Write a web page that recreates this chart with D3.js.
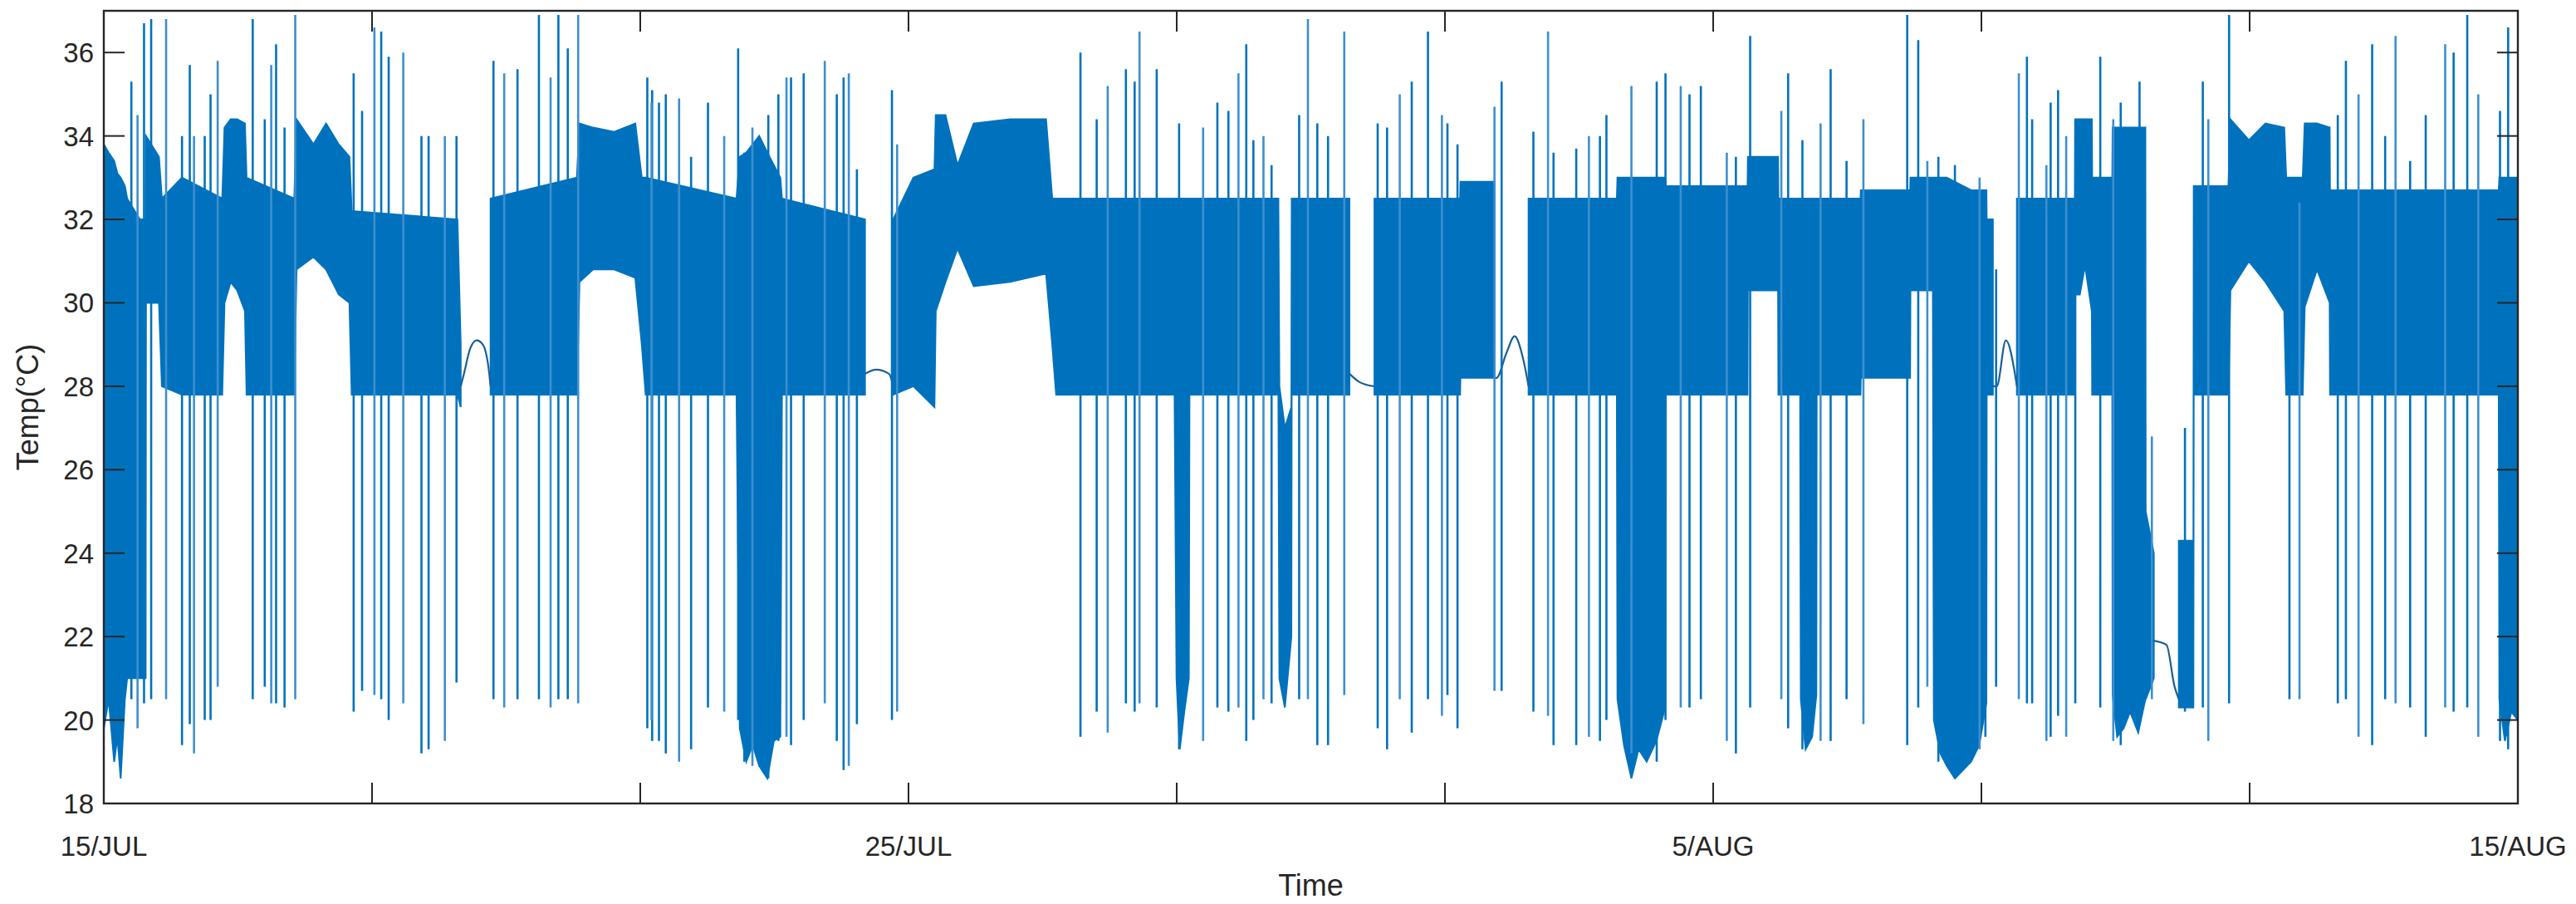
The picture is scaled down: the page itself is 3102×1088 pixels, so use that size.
<!DOCTYPE html>
<html><head><meta charset="utf-8">
<script src="https://cdn.jsdelivr.net/npm/d3@7/dist/d3.min.js"></script>
<style>body{margin:0;background:#fff}svg text{font-family:"Liberation Sans",Arial,sans-serif;fill:#262626}</style>
</head><body><svg id="c" width="3102" height="1088"></svg>
<script>
// time in hours from 15/JUL (0..744), ticks evenly every 744/9 h
const tickLabels = ["15/JUL","","","25/JUL","","","5/AUG","","","15/AUG"];
const yTicks = [18,20,22,24,26,28,30,32,34,36];

// dense band envelope points [time, low, high]; null marks a gap
const bandPts = [
 [0,19.8,33.8],[1.5,20.5,33.6],[3.2,19.0,33.4],[4.2,19.6,33.1],[5.2,18.6,33],[6.5,20.5,32.8],[7.2,21,32.5],[11.1,21,32],[12.9,21,32],[13,30,34],[17,30,33.5],[17.9,28,32.5],
 [24.1,27.8,33],[36.5,27.8,32.5],[37.2,30,34.2],[39.1,30.5,34.4],[41.1,30.3,34.4],[43.5,29.8,34.3],[44,27.8,33],[58.7,27.8,32.5],
 [59.4,30.8,34.4],[64.6,31.1,33.8],[68.5,30.8,34.3],[72.4,30.2,33.8],[75.7,30,33.5],[76.4,27.8,32.2],[109,27.8,32],[110,27.5,29],null,
 [119.2,27.8,32.5],[145.8,27.8,33],[146.6,30.5,34.3],[150.8,30.8,34.2],[157.3,30.8,34.1],[163.8,30.6,34.3],[165.8,29,33],[167,27.8,33],
 [195,27.8,32.5],[196,19.8,33.5],[198,19.0,33.6],[200,19.4,33.8],[202,18.9,34],[204.5,18.6,33.6],[206.5,19.5,33.3],[208.5,19.6,33],[209,27.8,32.5],[234.6,27.8,32],null,
 [243.3,27.8,32],[249.5,28,33],[256,27.5,33.2],[256.4,29.8,34.5],[259.4,30.5,34.5],[263.1,31.3,33.3],[268.1,30.4,34.3],[279.3,30.5,34.4],[290.4,30.7,34.4],[292.3,29,32.5],[293.5,27.8,32.5],
 [330,27.8,32.5],[330.6,21,32.5],[331.6,19.3,32.5],[333,20.2,32.5],[334.4,21,32.5],[334.6,27.8,32.5],[362,27.8,32.5],[362.3,21,28],[364,20.3,27],[366,22,27.5],[366.1,27.8,32.5],[383.9,27.8,32.5],null,
 [391.6,27.8,32.5],[418,27.8,32.5],[418.1,28.2,32.9],[428.6,28.2,32.9],null,
 [439.1,27.8,32.5],[466.3,27.8,32.5],[466.5,20.5,33],[468.5,19.4,33],[470.8,18.6,33],[473,19.3,33],[475.5,19.0,33],[478.5,19.5,33],[481.2,20.3,33],[481.4,27.8,32.8],
 [506.6,27.8,32.8],[506.7,30.3,33.5],[516,30.3,33.5],[516.1,27.8,32.5],[522.8,27.8,32.5],[523,20.5,32.5],[524.5,19.3,32.5],[526.5,19.6,32.5],[527.8,20.6,32.5],[527.9,27.8,32.5],
 [541.4,27.8,32.5],[541.5,28.2,32.7],[556.7,28.2,32.7],[556.8,30.3,33],[563.7,30.3,33],
 [564,20,33],[566,19.2,33],[568,18.9,33],[570.5,18.6,32.9],[573,18.8,32.8],[575.5,19.0,32.7],[578,19.4,32.7],[580.2,20.4,32.7],[580.3,27.8,32],[582.2,27.8,32],null,
 [589.6,27.8,32.5],[607.5,27.8,32.5],[607.6,30.2,34.4],[609,30.2,34.4],[610.6,30.9,34.4],[612.7,29.8,34.4],[612.8,27.8,33],[619,27.8,33],
 [619.1,20.6,34.2],[620.5,19.6,34.2],[622.5,19.8,34.2],[624.5,20.2,34.2],[627,19.7,34.2],[629.2,20.5,34.2],[629.3,20.5,25],[631.8,21,24],null,
 [639.5,20.3,24.3],[644,20.3,24.3],[644.1,27.8,32.8],[654.8,27.8,32.8],[655.4,30.3,34.4],[661.1,31,33.9],[666.2,30.5,34.3],[672,29.8,34.2],[672.6,27.8,33],[677.7,27.8,33],
 [678.3,29.9,34.3],[682.1,30.8,34.3],[686,30,34.2],[686.1,27.8,32.7],[738.1,27.8,32.7],[738.3,20.5,33],[740,19.5,33],[742,20.2,33],[744,20,33]
];

// thin single-line stretches
const lineT = [110,111,112.9,114.9,116.8,118.8,119.2, 234.6,238,242,243.3, 383.9,387,391.4, 428.6,429.2,432.3,434.8,437.3,439.1,
  582.2,583.4,586.2,589.2,589.6, 631.8,635.7,638.2,639.5];
const lineV = [28,28.3,28.9,29.1,29.0,28.3,28, 28.3,28.4,28.3,28, 28.3,28.1,28.0, 28.2,28.2,28.8,29.2,28.7,28.0,
  28,28.0,29.1,28.2,28, 21.9,21.8,20.8,20.5];

// spikes: time, low, high
const spikeT = [8.5,10.4,12.4,14.6,19.2,24.1,26.5,27.8,31.1,32.9,35.1,45.9,49.6,51.6,53.1,55.7,59,77,79.6,83.4,85.5,87.8,92.3,97.9,100.1,105.1,108.7,120.1,123.4,127.5,134.1,137.7,140.1,143,146.2,167.5,169,
 168.8,171.1,173.2,177.3,181,186.2,191.2,195.5,197.4,199.9,204.8,207.9,210.4,211.8,215.7,222.2,225.9,228,229.6,232.1,242.9,244.5,301,306,309.4,315,317.7,319.2,324.5,331.4,338.8,343.2,346.6,349.7,352.1,354.3,357.4,359.9,
 368.4,371.1,374,377.3,382.3,392.6,395.5,399.4,403.1,408.1,412.4,414.1,417.2,428.6,430.8,440.6,445.1,446.8,453.8,457.7,461.1,463.1,470.8,478.6,481.3,486,488.7,492.2,500.2,503,507.4,517,519.1,523.5,529.1,532.2,537.1,542.3,555.8,
 559.2,562,565.4,570.5,578.1,579.9,583.2,590.2,592.7,594.3,598.7,600,602.3,604.8,607.6,615.3,619.3,621.6,627.4,631.2,641.4,646.9,648.6,655,673.6,676.7,688.5,691,694.9,699.1,703.1,706.3,710.8,715.6,721.6,724.2,728.4,731.8,738.5,741];
const spikeLo = [20.5,19.8,20.4,20.5,20.5,19.4,19.9,19.2,20,20,20.8,20.5,20.8,20.4,20.4,20.3,20.5,20.2,20.7,20.6,20.5,20,20.4,19.2,19.3,19.5,20.9,20.5,20.3,20.5,20.5,20.3,20.5,20.5,20.4,19.8,19.5,
 20,19.5,19.2,19,19.3,20.3,20.2,20,19,18.9,18.6,19.5,19.6,19.4,20,20.4,19.5,18.8,18.9,19.9,20,20.2,19.6,20.2,19.7,20.4,20.2,20.4,20.3,19.3,19.5,20.3,20.2,20.3,19.5,20,20.5,20.4,
 20.5,20.5,19.4,19.4,20.6,19.8,19.3,20.5,19.7,20.5,20.1,20.6,19.8,20.7,20.7,20.2,20.1,19.4,19.4,19.6,19.5,20,19.2,19,20,20.3,20.3,20.5,19.5,19.2,20.3,20.5,19.8,19.3,19.5,19.5,20.5,19.9,19.4,
 20.3,20.8,19,18.8,19.3,19.6,20.8,20.5,20.4,20.4,19.5,19.6,20.1,19.6,20.4,20.3,19.5,19.4,20.5,20.5,20.2,20.3,19.5,20.4,20.5,20.5,20.4,20.5,19.6,19.4,20.5,20.4,20.3,19.6,20.3,20.2,20.3,19.6,19.5,19.3];
const spikeHi = [35.3,34.5,36.7,36.8,36.8,34,35.7,34,34,35,35.8,36.8,34.4,35.7,36.2,34.2,36.9,35.5,34.6,36.6,36.5,35.9,36,34,34,34,34,35.8,35.5,35.6,36.9,35.4,36.9,36.1,36.9,35.4,35.1,
 34.8,34.8,35,34.9,33.5,34.8,34,36.1,33.6,34.2,34.5,35,35.4,35.4,35.5,35.8,35,35.4,35.5,33.2,35.1,33.8,36,34.4,35.2,35.6,35.3,36.5,35.6,34.3,34.2,34.8,34.6,35.5,36.2,33.9,34,33.3,
 34.5,36.8,34.3,34,36.5,34.3,34.2,35,35.3,36.5,34.5,34.3,33.8,34.7,35.3,34.1,36.5,33.6,33.7,34,34,34.5,35.2,35.3,35.5,35.2,35,35.2,33.6,33.5,36.4,34.6,35.5,33.9,34.3,35.6,33.4,34.4,36.9,
 36.3,33.4,33.5,33.3,33,32.5,30.8,35.5,35.9,34.4,33.3,34.8,35.1,34,34.4,35.9,34.4,34.8,35.3,26.8,27,35.3,34.4,36.9,33,32.4,34.5,35.8,35,36.2,34,36.4,33.4,34.5,36.2,36,36.9,35,34.6,36.6];

const L=125, R=3032, T=13, B=967;
const svg=d3.select("#c");
const x=d3.scaleLinear().domain([0,744]).range([L,R]);
const y=d3.scaleLinear().domain([18,37]).range([B,T]);
const col="#0072BD";
svg.append("defs").append("clipPath").attr("id","clip").append("rect").attr("x",L).attr("y",T).attr("width",R-L).attr("height",B-T);
const g=svg.append("g").attr("clip-path","url(#clip)");

const area=d3.area().defined(d=>d!==null).x(d=>x(d[0])).y0(d=>y(d[1])).y1(d=>y(d[2]));
g.append("path").datum(bandPts).attr("fill",col).attr("stroke",col).attr("stroke-width",2).attr("d",area);

const line=lineT.map((t,i)=>({t,v:lineV[i]}));
const runs=[];let cur=[];
line.forEach((p,i)=>{ if(i>0 && p.t-line[i-1].t>6){runs.push(cur);cur=[];} cur.push(p);}); runs.push(cur);
g.selectAll(".thin").data(runs).join("path").attr("fill","none").attr("stroke","#1a5f96").attr("stroke-width",2.2)
 .attr("d",d3.line().x(d=>x(d.t)).y(d=>y(d.v)).curve(d3.curveMonotoneX));

const spikes=spikeT.map((t,i)=>({t,lo:spikeLo[i],hi:spikeHi[i],i}));
g.selectAll(".sp").data(spikes).join("line")
 .attr("x1",d=>x(d.t)).attr("x2",d=>x(d.t)).attr("y1",d=>y(d.lo)).attr("y2",d=>y(d.hi))
 .attr("stroke",d=>d.i%3===1?"#3d8fd0":col).attr("stroke-width",2.6);

const ax=svg.append("g").attr("stroke","#262626").attr("fill","none");
ax.append("rect").attr("x",L).attr("y",T).attr("width",R-L).attr("height",B-T).attr("stroke-width",2.4);
const tl=25;
tickLabels.forEach((lab,i)=>{
  const xx=x(i*744/9);
  ax.append("line").attr("x1",xx).attr("x2",xx).attr("y1",B).attr("y2",B-tl).attr("stroke-width",2);
  ax.append("line").attr("x1",xx).attr("x2",xx).attr("y1",T).attr("y2",T+tl).attr("stroke-width",2);
  if(lab) svg.append("text").attr("x",xx).attr("y",1030).attr("text-anchor","middle").attr("font-size",33).text(lab);
});
yTicks.forEach(v=>{
  const yy=y(v);
  ax.append("line").attr("x1",L).attr("x2",L+tl).attr("y1",yy).attr("y2",yy).attr("stroke-width",2);
  ax.append("line").attr("x1",R).attr("x2",R-tl).attr("y1",yy).attr("y2",yy).attr("stroke-width",2);
  svg.append("text").attr("x",L-12).attr("y",yy+12).attr("text-anchor","end").attr("font-size",33).text(v);
});
svg.append("text").attr("x",(L+R)/2).attr("y",1078).attr("text-anchor","middle").attr("font-size",36).text("Time");
svg.append("text").attr("transform","translate(46,"+((T+B)/2)+") rotate(-90)").attr("text-anchor","middle").attr("font-size",36).text("Temp(°C)");
</script></body></html>
